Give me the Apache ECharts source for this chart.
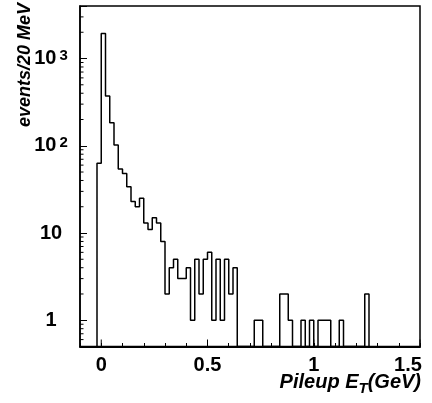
<!DOCTYPE html>
<html>
<head>
<meta charset="utf-8">
<script src="https://cdn.jsdelivr.net/npm/echarts@6/dist/echarts.min.js"></script>
<style>
html,body{margin:0;padding:0;background:#fff;}
#c{width:432px;height:403px;}
</style>
</head>
<body>
<div id="c"></div>
<script>
// Histogram bins: lower edges (GeV) and counts per 20 MeV bin
const binLow = [-0.02, 0.00, 0.02, 0.04, 0.06, 0.08, 0.10, 0.12, 0.14, 0.16,
  0.18, 0.20, 0.22, 0.24, 0.26, 0.28, 0.30, 0.32, 0.34, 0.36,
  0.38, 0.40, 0.42, 0.44, 0.46, 0.48, 0.50, 0.52, 0.54, 0.56,
  0.58, 0.60, 0.62, 0.64, 0.66, 0.68, 0.70, 0.72, 0.74, 0.76,
  0.78, 0.80, 0.82, 0.84, 0.86, 0.88, 0.90, 0.92, 0.94, 0.96,
  0.98, 1.00, 1.02, 1.04, 1.06, 1.08, 1.10, 1.12, 1.14, 1.16,
  1.18, 1.20, 1.22, 1.24];
const binWidth = 0.02;
const counts = [63, 1930, 373, 183, 102, 54, 48, 34, 23, 20,
  25, 13, 11, 15, 13, 8, 2, 4, 5, 3,
  3, 4, 1, 5, 2, 5, 6, 1, 5, 1,
  5, 2, 4, 0, 0, 0, 0, 1, 1, 0,
  0, 0, 0, 2, 2, 1, 0, 0, 1, 0,
  1, 0, 1, 1, 1, 0, 0, 1, 0, 0,
  0, 0, 0, 2];
// Axis ranges and ticks
const xMin = -0.1, xMax = 1.5;
const yMin = 0.5, yMax = 4000;
const xMajorTicks = [0, 0.5, 1, 1.5];
const xTickLabels = ['0', '0.5', '1', '1.5'];
const yMinorTicks = [0.6, 0.7, 0.8, 0.9, 2, 3, 4, 5, 6, 7, 8, 9,
  20, 30, 40, 50, 60, 70, 80, 90, 200, 300, 400, 500, 600, 700, 800, 900, 2000, 3000];
const yTitle = 'events/20 MeV';
const xTitleParts = ['Pileup E', 'T', '(GeV)'];

const FONT = 'Liberation Sans';

// build step outline
const pts = [[binLow[0], yMin]];
for (let i = 0; i < binLow.length; i++) {
  pts.push([binLow[i], counts[i] > 0 ? counts[i] : yMin]);
}
pts.push([binLow[binLow.length - 1] + binWidth, yMin]);

// text measurement for the x title pieces
const mctx = document.createElement('canvas').getContext('2d');
function tw(txt, size) {
  mctx.font = 'italic bold ' + size + 'px "' + FONT + '"';
  return mctx.measureText(txt).width;
}
const xTitleRight = 421;
const wGev = tw(xTitleParts[2], 20);
const wT = tw(xTitleParts[1], 15);

const chart = echarts.init(document.getElementById('c'), null, {renderer: 'canvas'});

const labelBase = {fontSize: 20, fontWeight: 'bold', fontFamily: FONT, color: '#000'};
const titleStyle = {fontWeight: 'bold', fontStyle: 'italic', fontFamily: FONT, fill: '#000', align: 'right', verticalAlign: 'middle'};

chart.setOption({
  animation: false,
  backgroundColor: '#fff',
  grid: {left: 80, right: 12, top: 6, bottom: 56.5, show: true, borderColor: '#000', borderWidth: 1.5, containLabel: false},
  xAxis: {
    type: 'value', min: xMin, max: xMax, interval: 0.1,
    axisLine: {show: true, onZero: false, lineStyle: {color: '#000', width: 2}},
    axisTick: {show: true, inside: true, length: 3.5, lineStyle: {color: '#000', width: 1}},
    splitLine: {show: false},
    axisLabel: {
      margin: 9,
      showMinLabel: true, showMaxLabel: true,
      formatter: function (v) {
        for (let i = 0; i < xMajorTicks.length; i++) {
          if (Math.abs(v - xMajorTicks[i]) < 1e-6) {
            return i === xMajorTicks.length - 1 ? '{r|' + xTickLabels[i] + '}' : '{n|' + xTickLabels[i] + '}';
          }
        }
        return '';
      },
      rich: {
        n: Object.assign({}, labelBase),
        r: Object.assign({}, labelBase, {padding: [0, 24, 0, 0]})
      }
    }
  },
  yAxis: {
    type: 'log', logBase: 10, min: yMin, max: yMax,
    axisLine: {show: true, onZero: false, lineStyle: {color: '#000', width: 1.5}},
    axisTick: {show: true, inside: true, length: 7, lineStyle: {color: '#000', width: 1}},
    splitLine: {show: false},
    minorTick: {show: false},
    axisLabel: {
      margin: 29, align: 'center',
      formatter: function (v) {
        const l = Math.log10(v);
        const e = Math.round(l);
        if (Math.abs(l - e) > 1e-6) return '';
        if (e === 0) return '{n|1}';
        if (e === 1) return '{n|10}';
        return '{b|10}{p|' + e + '}';
      },
      rich: {
        n: Object.assign({}, labelBase),
        b: Object.assign({}, labelBase, {lineHeight: 20, padding: [9, 0, 0, 0], verticalAlign: 'bottom'}),
        p: Object.assign({}, labelBase, {fontSize: 15, lineHeight: 15, padding: [0, 0, 0, 3], verticalAlign: 'top'})
      }
    }
  },
  graphic: [
    {
      type: 'text', x: 25, y: 3, rotation: Math.PI / 2,
      style: Object.assign({}, titleStyle, {text: yTitle, fontSize: 18})
    },
    {
      type: 'text', x: xTitleRight, y: 382,
      style: Object.assign({}, titleStyle, {text: xTitleParts[2], fontSize: 20})
    },
    {
      type: 'text', x: xTitleRight - wGev, y: 389,
      style: Object.assign({}, titleStyle, {text: xTitleParts[1], fontSize: 15})
    },
    {
      type: 'text', x: xTitleRight - wGev - wT, y: 382,
      style: Object.assign({}, titleStyle, {text: xTitleParts[0], fontSize: 20})
    }
  ],
  series: [
    {
      type: 'line', step: 'end', data: pts, showSymbol: false, symbol: 'none',
      lineStyle: {color: '#000', width: 1.5}, clip: true, z: 3
    },
    {
      // minor ticks on the log y axis
      type: 'custom', clip: false, silent: true, z: 4,
      data: yMinorTicks.map(v => [xMin, v]),
      renderItem: function (params, api) {
        const p = api.coord([api.value(0), api.value(1)]);
        return {type: 'line', shape: {x1: p[0], y1: p[1], x2: p[0] + 3.5, y2: p[1]}, style: {stroke: '#000', lineWidth: 1}};
      }
    },
    {
      // long major ticks on the x axis
      type: 'custom', clip: false, silent: true, z: 4,
      data: xMajorTicks.map(v => [v, yMin]),
      renderItem: function (params, api) {
        const p = api.coord([api.value(0), api.value(1)]);
        return {type: 'line', shape: {x1: p[0], y1: p[1], x2: p[0], y2: p[1] - 7}, style: {stroke: '#000', lineWidth: 1}};
      }
    }
  ]
});
</script>
</body>
</html>
